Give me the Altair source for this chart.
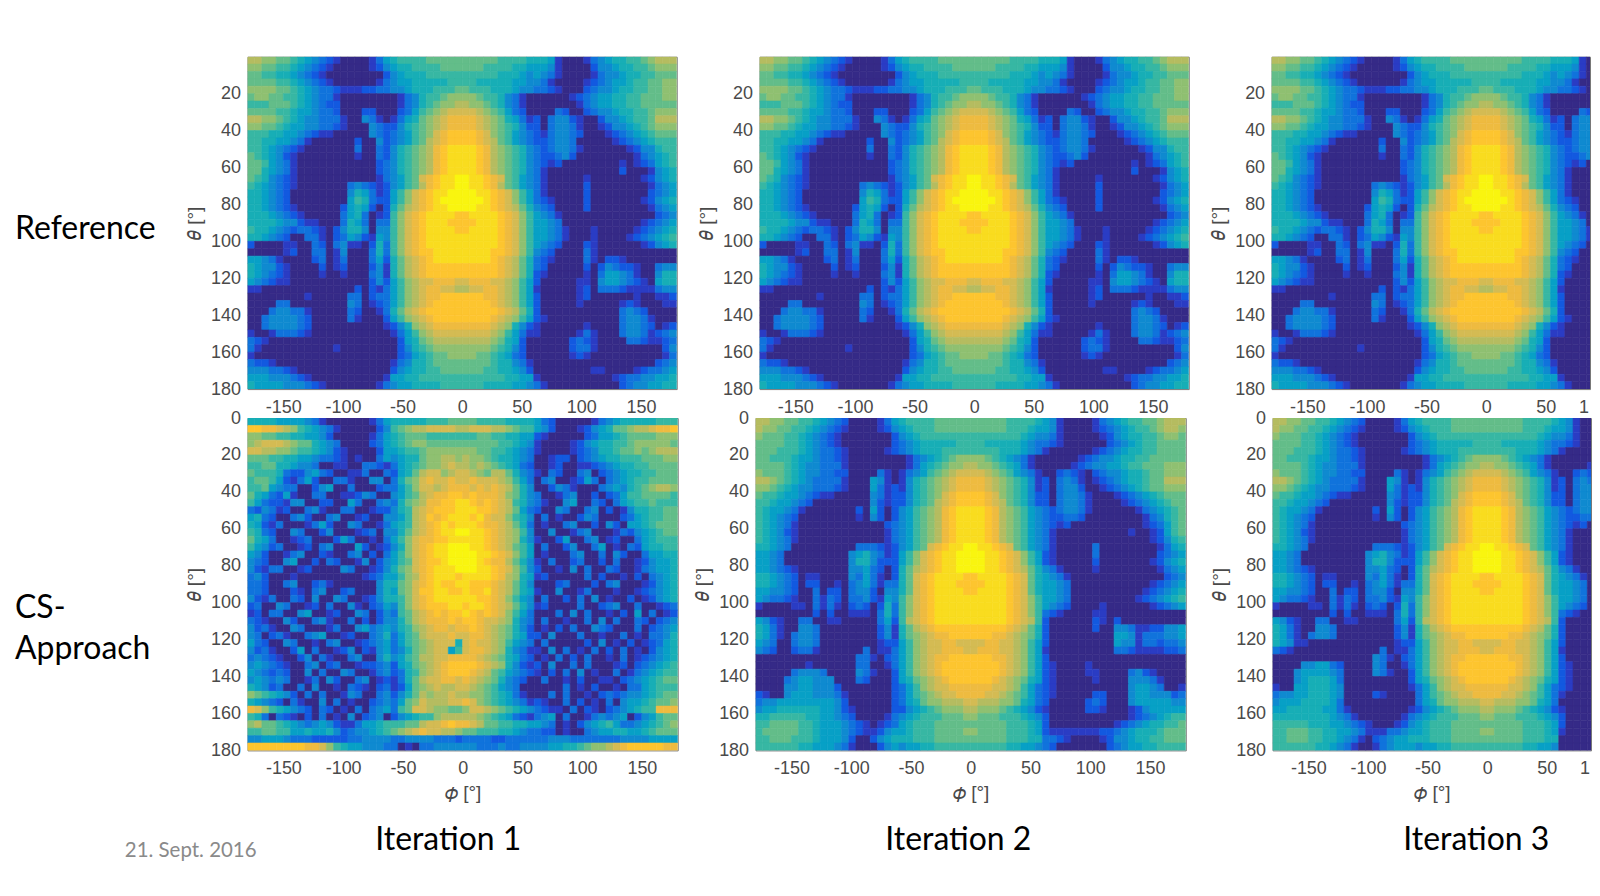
import altair as alt
import pandas as pd

PHI_TICKS = [-150, -100, -50, 0, 50, 100, 150]
PHI_TICKS_CUT = [-150, -100, -50, 0, 50]
THETA_TICKS_TOP = [20, 40, 60, 80, 100, 120, 140, 160, 180]
THETA_TICKS_BOTTOM = [0, 20, 40, 60, 80, 100, 120, 140, 160, 180]
PARULA = ["#352a87", "#2a3cc4", "#1259e0", "#1073dc", "#0f8ad0", "#07a0c6", "#17aeb6", "#37b7a3",
          "#63bd89", "#8fc071", "#b5bc60", "#d4bb53", "#eebb40", "#fdc52f", "#f9dc1f", "#f9f50f"]

# left flank (phi -180..-60), right flank (phi 60..180), one row per 4 degrees of theta
REF_LEFT = [
"aa99887654 3210000135","9988776543 2100000124","8877665432 1000000002","8888776543 2100000013",
"9999887654 3321112233","8998877654 3310000000","7778887654 3220000000","8888776554 3320002200",
"aa99876544 3331004310","9988765544 3321000432","7776655432 1100000432","7766554310 0000020042",
"7765432100 0000030032","8765421000 0000010032","8875431000 0000000023","8865431000 0000000023",
"8764321000 0000000013","7654321000 0000343212","6654320000 0000465312","6654320000 0000576322",
"6654321000 0002565202","6665432100 0003563012","6666544211 0003653033","7665432332 1024664044",
"6654320033 1023542154","2000011003 2034110263","0000012003 3014000363","5543100002 3013000352",
"6544210000 2012000241","6543210000 1001000341","5432110000 0000000242","1100000000 0000020213",
"0000000010 0000330233","0000330000 0000430123","0003443310 0000320013","0034444320 0000310002",
"0034444320 0000000001","1001333210 0000000000","3210000000 0000000000","3100000000 0010000000",
"1000000000 0000000000","3221000000 0000000000","4443321000 0000000000","5554443210 0000000001",
"6555544432 1000000013",
]
REF_RIGHT = [
"6651000134 5667789aaa","5541000024 4566778999","5431000013 4456677888","4310000123 4556778899",
"3321000234 4566778899","0000012345 5667788899","0000001345 5667788888","0003200234 4566778999",
"2034421002 4456778aaa","2034431001 2445678999","2134432000 1234567888","2234430000 0123456777",
"3234431000 0001244677","3223420000 0000134567","3212000000 0010123567","3100000000 0020001456",
"3100000100 0000012456","3100000200 0000001345","3100000200 0000002345","3210000200 0000012456",
"4320000200 0000001345","5431000000 0000000234","5543000000 0000012345","5543100010 0000123456",
"5543100010 0001234567","5432000210 0000012456","4320000310 0000000000","3210000310 2210000000",
"3200000202 4322100344","2100000103 5543100466","2000001104 5543210566","1000001203 3321111344",
"2000001200 0000100112","2000001000 0012100011","2000000000 0034320000","2100000000 0034431000",
"1000000100 0034432012","1000001310 0034431234","0000023210 0003321123","0000023310 0000000024",
"0000012100 0000000013","0000000000 0000000234","0000000011 0000123345","1000000000 0123344556",
"3100000000 0023445566",
]
# central lobe, phi 0 outwards (the lobe is read as even about phi = 0)
REF_CENTRE = [
"8888877776","8887777665","7777766654","7766666554","8777666544","9987764310","a998764310","bba9875320",
"ccba986531","ccba987642","ddcb987543","ddcba87543","eedca98764","eedca98764","eedca98764","eedca98764",
"feedcb8754","feedca8754","ffeedcb975","fffedcb975","ffeedcba86","deeeedcb97","ddeeedcb97","deeeedcb97",
"eeeeedcb97","eeeeedcb97","eeeeddcb97","eeeedcba86","dddddcba86","dddddcba86","bcccbba975","abbccba975",
"dddccba975","ddddcba975","dddddcba86","ddddcba975","ccccba9642","bbbba97531","aaaa986520","9999876420",
"9988765320","8888766431","8887766542","7777776655","7776666554",
]

IT1_ROWS = [
"6666555543 1000000135 6666677788 8877776666 5320000013 4566666777",
"ddccba9765 4310000024 789aabbbba abbbaa9877 5420001245 6889aabccd",
"9988776655 4200000135 6788877777 7788776655 2100000235 5678888999",
"9abbba9886 5430000235 6789988888 8888877654 1000012456 6778999998",
"bbaa998776 5421000025 5677899999 9988776543 1000012346 6788989aaa",
"8887766554 3321010035 4566899aa9 a998766543 0012202345 6677788899",
"7788665443 0011003321 3567899aba a9a9876532 0012001123 4566778888",
"8777632245 3200113003 2568abb9ab ba98aa8643 1032003402 3456677888",
"7887521352 0033100440 3689bcbbcb bcbbba9753 0340012530 3456778888",
"7785433002 4500300023 3579bbabcc cbcbcba864 0024310003 4546789aa9",
"8653251003 3001124300 4578abccdd cdcccb9864 3001340020 2357788887",
"7532214400 2200530034 3689accdde edcdcba764 3100450032 0356778777",
"3243120034 1003300122 467abcddde eeddcba853 2004300340 2014667788",
"5632003420 0340012004 457abdcdee edecbb9764 0301002430 0023567788",
"6521300013 5200430013 567abcdede eedccba863 0100340020 4205567888",
"7632004300 2400012304 468abcdeef feedcba974 0040013400 0132456788",
"8653001230 0025300103 579bccddee eeedcba964 1002500340 1200356777",
"7542300120 3400052012 469bcdeeff feedcba875 0300240035 0103256677",
"5420013400 2100340203 579bcdeeff ffeedcb975 0100034003 0420035566",
"4320045002 0320014024 578bcddeff ffedcca864 1030023002 0300124556",
"4213300120 0004300124 689bcdeeef ffeedcb974 2001040300 3200134556",
"3420001000 0000001235 579acdeeed eeeedca965 1200000302 0010203456",
"3320034002 3100000046 689bcdedde edddcba864 0002300020 3400012456",
"3320002103 4002300046 589bddeedd eddecba865 1004001300 0100123456",
"4213003204 0043001246 679bcdeeee eeddcb9754 0300203040 1002012456",
"2300430012 0300410235 479bcdddee deedcba864 1200003002 3400300123",
"1203300450 0120043024 378abcdcdd edcdcb9753 0003040300 1020503012",
"3210042003 4100302024 468abcccdc ddcbba9643 0300100304 0300320234",
"4231004300 0130045345 4679abccbc cdcba98642 0102030043 2000302345",
"4302310034 5001200346 3578abbbcb bccba98652 2040003001 0030103346",
"5320043001 0340012345 35789abbb6 bcbba97543 0300000204 0102012356",
"4231002503 0012402145 34689abb57 bccba96431 1040301030 2030102456",
"3432100240 3100340046 4578aabbcc ccba986532 0103020300 1030123456",
"4543210034 0230012234 25689abcdd ddcba96421 2040030300 0120234567",
"5432320040 3004300134 23679abcdd dcba875432 1020304010 0301345677",
"4543430013 0420034012 1368abbccb cba9864320 0300102001 1023456788",
"6542300304 0010321023 12589abaab ba98754300 0000301020 0103356777",
"9876542030 3001430034 2468a9aaba a998765310 0030300102 3234456788",
"6543203100 4030100234 3589baaabb cb98765431 2100302010 3045567889",
"cb97654320 3201030345 378bba9988 9bba987654 3211030210 2345677ccc",
"7630321020 3010402340 2456779aaa aa98765321 3450300134 3450245788",
"9a88765434 5421135567 7788abbcdc cba8877665 5430102456 7533456789",
"7788775565 5642344567 89abcbbaa9 8877766543 3220100345 5665567888",
"4455543332 2222334444 3344443332 3333223333 3344433333 3344445555",
"ddddddddcc b976554443 3010334444 4433343344 4455667899 abcdddddcc",
]

IT2_LEFT = [
"aa99887765 4320000135","a998877654 3210000124","9888776543 2100000002","8888776543 2100000002",
"8887776543 3210000012","8877765543 3210000000","8888765443 3310000000","9888765443 3220000310",
"aa98765433 3310005410","9987654433 3210005312","8776554321 1000004312","7765543200 0000004212",
"7655431000 0000205202","7654320000 0000104202","7654310000 0000000023","7654210000 0000000013",
"7654310000 0000000013","6654300000 0000333212","5543000000 0004564312","5543000000 0004664222",
"5543210000 0004453202","6654320110 0004353102","6654320220 0103453133","5544320030 2203442044",
"5433210031 3203342154","1000011031 3102320263","0000000020 2001110363","5421003300 1100000352",
"6531004430 0000000241","6531034430 0000000241","5430034430 0000000122","4320023310 0000030113",
"0000000000 0000331023","0000000100 0000330013","0000034443 0000431002","0000345544 4000320002",
"0000445544 4200000002","2100455544 4310000002","3445555555 5420000002","4556666665 5421000002",
"6677777665 5432000013","7788887765 5543210123","7888887765 5543211245","7788877765 5542002456",
"7777776655 5431000245",
]
IT2_RIGHT = [
"5410000134 5677889aaa","5410000123 4567789aa9","4310000012 4566778998","3210000002 3456778888",
"1000000123 4566778888","0000012344 5667788888","0000123445 5677888999","0023210234 4566788999",
"2034310123 4566788aaa","2034420012 3456788999","2034431000 1234567888","2034431000 0123456788",
"3234431000 0001345678","3223320000 0000134678","3212000000 0000123578","3100000000 0010012578",
"3100000000 0000012467","3100000300 0000001356","2100000300 0000002345","2100000200 0000012456",
"4310000100 0000001345","5431000000 0000000234","5543000000 0000012345","5543000000 0000123456",
"5543000000 0001234567","5432000010 0000012345","3210000110 0000000000","2000000210 2000000000",
"2000000200 4431122445","2000000000 5541333445","2000000000 5441332334","1000000000 3321111223",
"2000000000 0000000000","2100001000 0000000000","2100001100 0034210000","2100000100 0044431000",
"2100000000 0045543001","2100000220 0045544423","2000002320 0045555544","1000002210 0012455555",
"2000000000 0012345677","2000000000 1234566778","2111111122 3456667888","3321000012 4456677888",
"3200000002 3455667777",
]
IT2_CENTRE = [
"8888877776","8888877765","7777777654","7766666543","7777666543","9987654310","a998765310","bba9875431",
"ccba987641","ccba987641","ddcb987642","ddcba87642","eedca98754","eedca98754","eedca98754","eedca98754",
"eedca98754","feedcb8754","ffeedcb975","ffeedcb975","ffeedcba86","deeeedcb86","ddeeedcb86","deeeedcb86",
"eeeeedcb97","eeeeedcb97","eeeeedcb97","eeeeedcba7","dddddcba86","dddccba986","bbccbba975","bcccbba975",
"dddccba975","ddddcba975","ddddcba975","dddcba9865","cccbba9753","ccbba98753","baaa998653","a999876542",
"9888777654","8888877765","9888877765","8888877766","7777766554",
]

# iteration 3 differs from iteration 2 on the flanks below theta = 120 degrees
IT3_LEFT_LOWER = [
"6541100000 0000000122","3210000000 0000030113","0000000000 0000431023","0000445532 0000430013",
"0004555543 0000431002","0004566653 0000000002","1005566654 0000000001","3445566654 0000210000",
"4555666653 0000000000","5566666553 1000000001","6666666654 3100000013","7777766655 4321000124",
"7788877665 5431113345","7788877665 4310234556","7777776654 3100134555",
]
IT3_RIGHT_LOWER = [
"2000000000 5441332334","1000000000 3321111223","2000000000 0000000000","2100001000 0000000000",
"2100001100 0034210000","2100000100 0044431000","2100000000 0045543001","1000000220 0045544423",
"0000002320 0045555544","1000002210 0012455555","2000000000 0012345677","2000000000 1234566778",
"1000011122 3456667888","0000001223 4456677888","0000001234 3455667777",
]

FULL_WIDTH = 430
HEIGHT = 333
BIG = 32
TICK_SIZE = 18
GREY = "#4a4a4a"


def assemble(left, centre, right):
    return [l + c[::-1] + c + r for l, c, r in zip(left, centre, right)]


REFERENCE = assemble(REF_LEFT, REF_CENTRE, REF_RIGHT)
ITERATION_2 = assemble(IT2_LEFT, IT2_CENTRE, IT2_RIGHT)
ITERATION_3 = assemble(IT2_LEFT[:30] + IT3_LEFT_LOWER, IT2_CENTRE, IT2_RIGHT[:30] + IT3_RIGHT_LOWER)


def table(rows):
    cells = []
    for i, row in enumerate(rows):
        for c, ch in enumerate(row.replace(" ", "")):
            cells.append({"p0": -180 + 6 * c, "p1": -174 + 6 * c, "t0": 4 * i, "t1": 4 * i + 4, "v": int(ch, 16)})
    return pd.DataFrame(cells)


color_scale = alt.Scale(domain=list(range(16)), range=PARULA)


def note(text, x, y, size=BIG, color="#000000", font="Lato"):
    return alt.Chart(pd.DataFrame({"label": [text]})).mark_text(
        align="left", baseline="middle", font=font, fontSize=size, color=color
    ).encode(x=alt.value(x), y=alt.value(y), text="label:N")


def cut_digit():
    return note("1", 308, 352, TICK_SIZE, GREY, "Liberation Sans")


def panel(rows, w, theta_ticks, xtitle, notes=(), cut=False):
    end = -180 + 360 * w / FULL_WIDTH if cut else 180
    heat = alt.Chart(table(rows)).mark_rect(strokeWidth=0.6, clip=True).encode(
        x=alt.X("p0:Q", scale=alt.Scale(domain=[-180, end], nice=False),
                axis=alt.Axis(values=PHI_TICKS_CUT if cut else PHI_TICKS, title=xtitle, labelOverlap=False,
                              labelExpr="datum.value + ''", labelFlush=False)),
        x2="p1:Q",
        y=alt.Y("t0:Q", scale=alt.Scale(domain=[0, 180], reverse=True, nice=False),
                axis=alt.Axis(values=theta_ticks, title="𝜃 [°]", labelOverlap=False, labelFlush=False)),
        y2="t1:Q",
        color=alt.Color("v:Q", scale=color_scale, legend=None),
        stroke=alt.Stroke("v:Q", scale=color_scale, legend=None),
    )
    return alt.layer(heat, *notes).properties(width=w, height=HEIGHT)


def spacer(w):
    return alt.Chart(pd.DataFrame({"a": [0]})).mark_point(opacity=0).encode(
        x=alt.value(0), y=alt.value(0)
    ).properties(width=w, height=HEIGHT, view=alt.ViewConfig(stroke=None))


top = alt.hconcat(
    panel(REFERENCE, FULL_WIDTH, THETA_TICKS_TOP, None, [note("Reference", -233, 173)]),
    panel(REFERENCE, FULL_WIDTH, THETA_TICKS_TOP, None),
    panel(REFERENCE, 319, THETA_TICKS_TOP, None, [cut_digit()], cut=True),
    spacing=83, bounds="flush",
)
bottom = alt.hconcat(
    panel(IT1_ROWS, 431, THETA_TICKS_BOTTOM, "𝜙 [°]", [
        note("CS-", -233, 190), note("Approach", -233, 231),
        note("21. Sept. 2016", -123, 434, 20.5, "#8a8a8a"),
        note("Iteration 1", 128, 423),
    ]),
    spacer(78),
    panel(ITERATION_2, 431, THETA_TICKS_BOTTOM, "𝜙 [°]", [note("Iteration 2", 130, 423)]),
    spacer(87),
    panel(ITERATION_3, 319, THETA_TICKS_BOTTOM, "𝜙 [°]", [note("Iteration 3", 131, 423), cut_digit()], cut=True),
    spacing=0, bounds="flush",
)
chart = alt.vconcat(top, bottom, spacing=-24).properties(
    padding={"left": 6, "top": 47, "right": 0, "bottom": 0}
).configure_view(stroke="#777777", strokeWidth=1).configure_axis(
    grid=False, ticks=False, domain=False,
    labelFont="Liberation Sans", labelFontSize=TICK_SIZE, labelColor=GREY, labelPadding=7,
    titleFont="Liberation Sans", titleFontSize=19, titleColor=GREY, titleFontWeight="normal",
).configure_axisX(titlePadding=6, labelPadding=9).configure_axisY(titlePadding=6)

chart.save("out.html", embed_options={"renderer": "svg", "actions": False})
